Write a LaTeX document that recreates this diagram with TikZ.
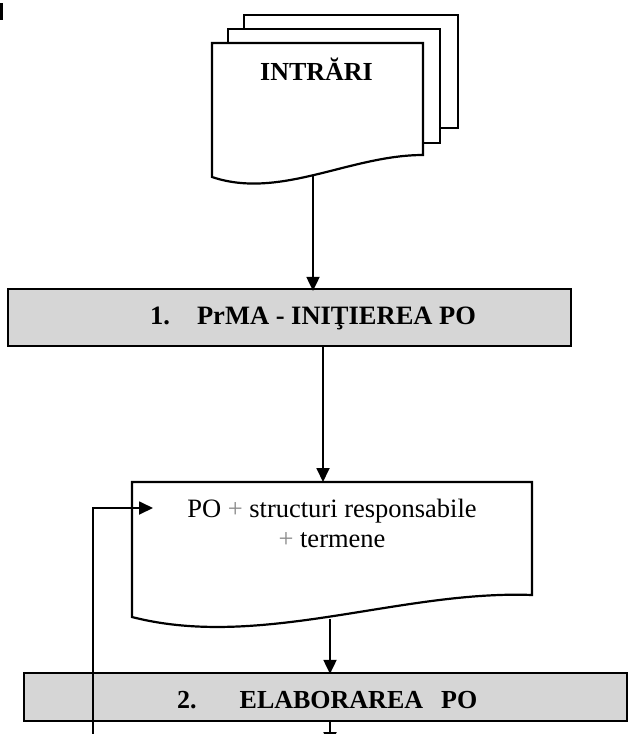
\documentclass[tikz,border=0pt]{standalone}
\usepackage{fontspec}
\setmainfont{Liberation Serif}
\usetikzlibrary{arrows.meta}
\begin{document}
\begin{tikzpicture}[x=1pt,y=-1pt,
  arr/.style={line width=1.8pt,-{Triangle[length=14pt,width=13pt]}},
  page/.style={draw,fill=white,line width=2.2pt,line join=miter},
  band/.style={draw,fill=black!16,line width=2.2pt,inner sep=0pt},
  boldtxt/.style={font=\fontsize{26}{31}\selectfont\bfseries,inner sep=0pt},
  bodytxt/.style={font=\fontsize{26.5}{31}\selectfont,inner sep=0pt}]
\useasboundingbox (0,0) rectangle (629,734);
% scan mark
\fill (0,3) rectangle (2.5,20);
% stacked input documents
\draw[page] (244,15) rectangle (458,128);
\draw[page] (228,29) rectangle (440,143);
\draw[page] (212,43) -- (423,43) -- (423,155)
  .. controls (350,155) and (280,200) .. (212,177) -- cycle;
\node[boldtxt,anchor=base] (intrari) at (316.5,80) {INTRĂRI};
\coordinate (d1bot) at (313,175);
% box 1
\node[band,minimum width=563pt,minimum height=57pt] (box1) at (289.5,317.5) {};
\node[boldtxt,font=\fontsize{26.5}{31}\selectfont\bfseries,anchor=base west] (t1) at (150,324)
  {1.\hspace{27pt}PrMA - INIŢIEREA PO};
% document 2
\draw[page] (132,482) -- (532,482) -- (532,595)
  .. controls (400,590) and (260,650) .. (132,617) -- cycle;
\coordinate (d2top) at (323,482);
\coordinate (d2bot) at (330,619);
\node[bodytxt,anchor=base] (po1) at (332,517)
  {PO {\color{black!45}+} structuri responsabile};
\node[bodytxt,anchor=base] (po2) at (332,547) {{\color{black!45}+} termene};
% box 2
\node[band,minimum width=603pt,minimum height=48pt] (box2) at (325.5,697) {};
\node[boldtxt,anchor=base west] (t2) at (177,708)
  {2.\hspace{43pt}ELABORAREA\hspace{18pt}PO};
% connectors
\coordinate (loopstart) at (93,745);
\coordinate (loopin) at (153,508);
\coordinate (exitpt) at (330,746);
\draw[arr] (d1bot) -- ([yshift=-3pt]d1bot |- box1.north);
\draw[arr] (box1.south -| d2top) -- (d2top);
\draw[arr] (d2bot) -- ([yshift=-2pt]d2bot |- box2.north);
\draw[arr] (box2.south -| exitpt) -- (exitpt);
\draw[arr] (loopstart) |- (loopin);
\end{tikzpicture}
\end{document}
